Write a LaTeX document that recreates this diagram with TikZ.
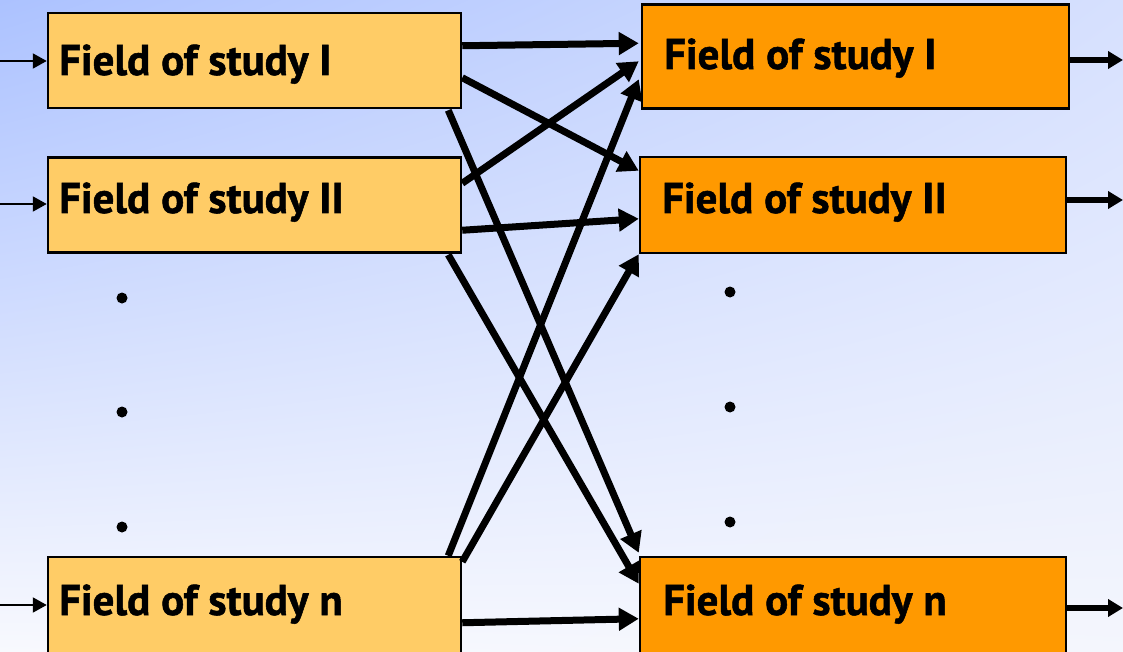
\documentclass[tikz,border=0pt]{standalone}
\usepackage{fontspec}
\newfontfamily\labfont{PT Sans Bold}[FakeBold=1.2]
\usetikzlibrary{arrows.meta,calc,shadings}
\definecolor{bgtl}{RGB}{172,194,255}
\definecolor{bgtr}{RGB}{214,224,254}
\definecolor{bgbl}{RGB}{248,249,254}
\definecolor{bgbr}{RGB}{244,246,253}
\definecolor{lightorange}{RGB}{255,204,102}
\definecolor{darkorange}{RGB}{255,153,0}
\tikzset{
  fieldbox/.style={draw=black,line width=2.5pt,inner sep=0pt},
  leftbox/.style={fieldbox,fill=lightorange,minimum width=413pt},
  rightbox/.style={fieldbox,fill=darkorange,minimum width=426pt},
  lbl/.style={anchor=base west,inner sep=0pt,font=\labfont\fontsize{43}{43}\selectfont},
  bigarrow/.style={line width=7pt,-{Triangle[length=20pt,width=22pt]}},
  inarrow/.style={line width=2pt,-{Triangle[length=14pt,width=15pt]}},
  outarrow/.style={line width=5.5pt,-{Triangle[length=15pt,width=17pt]}},
  dotmark/.style={circle,fill=black,inner sep=0pt,minimum size=11pt}
}
\begin{document}
\begin{tikzpicture}[x=1pt,y=-1pt]
\useasboundingbox (0,0) rectangle (1123,652);
\clip (0,0) rectangle (1123,652);
\shade[upper left=bgtl,upper right=bgtr,lower left=bgbl,lower right=bgbr] (0,0) rectangle (1123,652);
% left boxes
\node[leftbox,minimum height=95pt] (L1) at (254.5,60.5) {};
\node[leftbox,minimum height=95pt] (L2) at (254.5,205) {};
\node[leftbox,minimum height=100pt] (Ln) at (254.5,607) {};
% right boxes
\node[rightbox,minimum width=427pt,minimum height=104pt] (R1) at (855.5,56.5) {};
\node[rightbox,minimum height=96pt] (R2) at (853,205) {};
\node[rightbox,minimum height=100pt] (Rn) at (853,607) {};
% labels
\node[lbl] (L1t) at (59,75) {Field of study I};
\node[lbl] (L2t) at (59,213) {Field of study II};
\node[lbl] (Lnt) at (59,615) {Field of study n};
\node[lbl] (R1t) at (664,69) {Field of study I};
\node[lbl] (R2t) at (662,213) {Field of study II};
\node[lbl] (Rnt) at (663,615) {Field of study n};
% dots
\node[dotmark] (dl1) at (122,298) {};
\node[dotmark] (dl2) at (122,412) {};
\node[dotmark] (dl3) at (122,527) {};
\node[dotmark] (dr1) at (730,292) {};
\node[dotmark] (dr2) at (730,407) {};
\node[dotmark] (dr3) at (730,522) {};
% input arrows
\coordinate (in1) at (0,61);
\coordinate (in2) at (0,204);
\coordinate (in3) at (0,605);
\draw[inarrow] (in1) -- (in1 -| L1.west);
\draw[inarrow] (in2) -- (in2 -| L2.west);
\draw[inarrow] (in3) -- (in3 -| Ln.west);
% output arrows
\coordinate (out1) at (1123,60);
\coordinate (out2) at (1123,200);
\coordinate (out3) at (1123,608);
\draw[outarrow] (out1 -| R1.east) -- (out1);
\draw[outarrow] (out2 -| R2.east) -- (out2);
\draw[outarrow] (out3 -| Rn.east) -- (out3);
% crossing arrows
\draw[bigarrow] ($(L1.north east)+(0,34)$) -- ($(R1.north west)+(-2,40)$);
\draw[bigarrow] ($(L1.north east)+(0,66)$) -- ($(R2.north west)+(0,15)$);
\draw[bigarrow] ($(L1.south east)+(-14,1)$) -- ($(Rn.north west)+(0,-3)$);
\draw[bigarrow] ($(L2.north east)+(0,27)$) -- ($(R1.north west)+(-2,58)$);
\draw[bigarrow] ($(L2.north east)+(0,74)$) -- ($(R2.north west)+(0,63)$);
\draw[bigarrow] ($(L2.south east)+(-14,1)$) -- ($(Rn.north west)+(0,28)$);
\draw[bigarrow] ($(Ln.north east)+(-14,0)$) -- ($(R1.north west)+(-2,76)$);
\draw[bigarrow] ($(Ln.north east)+(0,6)$) -- (R2.south west);
\draw[bigarrow] ($(Ln.north east)+(0,67)$) -- ($(Rn.north west)+(0,63)$);
\end{tikzpicture}
\end{document}
